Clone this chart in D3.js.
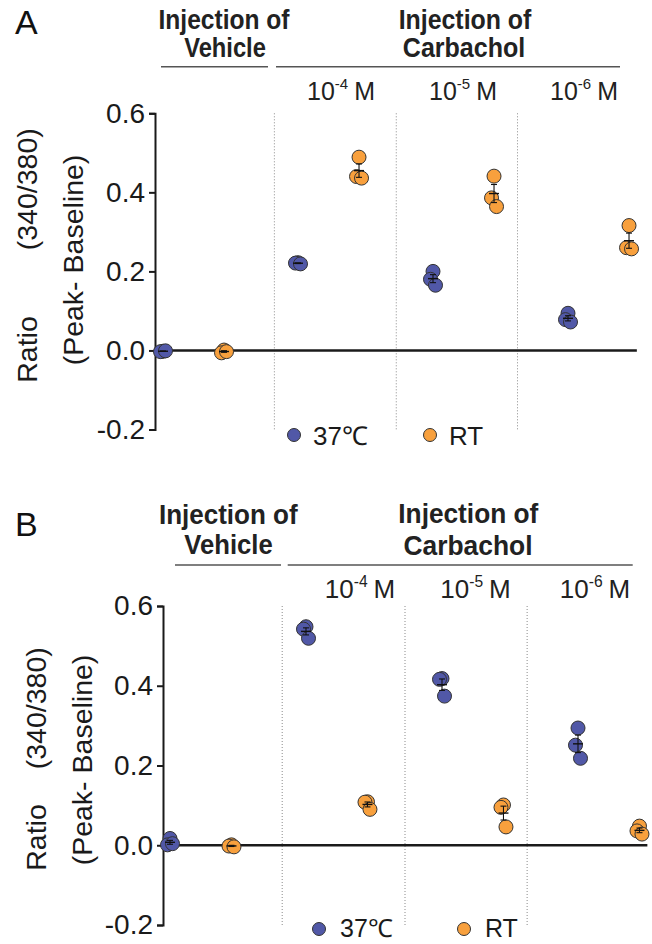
<!DOCTYPE html>
<html><head><meta charset="utf-8">
<script src="https://cdn.jsdelivr.net/npm/d3@7"></script>
<style>body{margin:0;background:#fff} svg{display:block}</style>
</head><body>
<svg id="c" width="652" height="944"></svg>
<script>
// ---------------- data ----------------
const groups = ["Vehicle", "1e-4", "1e-5", "1e-6"];
const seriesNames = ["37℃", "RT"];
const concExponents = ["-4", "-5", "-6"];
const tickValues = [-0.2, 0, 0.2, 0.4, 0.6];
const tickLabels = ["-0.2", "0.0", "0.2", "0.4", "0.6"];

// Panel A: three replicates per group (Vehicle, 10^-4, 10^-5, 10^-6 M)
const panelA_37 = [[-0.002, -0.003, -0.001], [0.222, 0.221, 0.219], [0.200, 0.180, 0.165], [0.094, 0.078, 0.072]];
const panelA_RT = [[0.001, -0.006, -0.003], [0.489, 0.440, 0.436], [0.441, 0.386, 0.364], [0.316, 0.260, 0.257]];
// Panel B
const panelB_37 = [[0.017, 0.001, 0.004], [0.548, 0.542, 0.519], [0.418, 0.416, 0.374], [0.294, 0.251, 0.218]];
const panelB_RT = [[0.001, -0.002, -0.004], [0.109, 0.108, 0.090], [0.101, 0.095, 0.046], [0.048, 0.036, 0.028]];

const colors = ["#5158a7", "#f8a03d"];

// ---------------- layout ----------------
const FONT = "'Liberation Sans', Arial, Helvetica, sans-serif";
const BOLD = "'Liberation Sans Narrow', 'Liberation Sans', Arial, sans-serif";
const dividerUnits = [0.825, 1.728, 2.626];
const zeroLineEndUnit = 3.51;
const rtOffset = 0.452;
const jitter = [0, -2.5, 2.5];

const panels = [
  {
    letter: "A", letterY: 34.3, data: [panelA_37, panelA_RT],
    axisX: 155, yRange: [429.5, 113.3], xRange: [163, 568],
    headers: [
      {t: "Injection of", cx: 224, y: 28.5, w: 131},
      {t: "Vehicle", cx: 225, y: 56.7, w: 81.7},
      {t: "Injection of", cx: 465, y: 28.5, w: 132.7},
      {t: "Carbachol", cx: 464, y: 56.7, w: 122.3}],
    underY: 66.7, unders: [[161, 268], [276, 620]],
    concX: [341, 463, 584], concY: 100, concSize: 25,
    titleX: [37, 83], titleC: [255.5, 260], titleGap: 66,
    legendY: 435, legendX: [294, 430], legendDx: 19, legendDy: 10, legendSize: 26
  },
  {
    letter: "B", letterY: 536, data: [panelB_37, panelB_RT],
    axisX: 163, yRange: [925, 606], xRange: [170, 578],
    headers: [
      {t: "Injection of", cx: 228.3, y: 524, w: 138.7},
      {t: "Vehicle", cx: 228.5, y: 554, w: 88.4},
      {t: "Injection of", cx: 468.3, y: 523, w: 140},
      {t: "Carbachol", cx: 468, y: 555, w: 129}],
    underY: 565, unders: [[175, 281], [287.7, 632.7]],
    concX: [360, 475.5, 595], concY: 598, concSize: 26,
    titleX: [46, 92], titleC: [759, 760], titleGap: 35,
    legendY: 929, legendX: [319, 464], legendDx: 21, legendDy: 8, legendSize: 25
  }
];

const svg = d3.select("#c");

panels.forEach(p => {
  const g = svg.append("g");
  const y = d3.scaleLinear().domain([-0.2, 0.6]).range(p.yRange);
  const x = d3.scaleLinear().domain([0, 3]).range(p.xRange);

  // panel letter
  g.append("text").attr("x", 15).attr("y", p.letterY).text(p.letter)
    .attr("font-family", FONT).attr("font-size", 34).attr("fill", "#111");

  // headers
  g.selectAll("text.hdr").data(p.headers).join("text").attr("class", "hdr")
    .attr("x", d => d.cx - d.w / 2).attr("y", d => d.y)
    .attr("textLength", d => d.w).attr("lengthAdjust", "spacingAndGlyphs")
    .attr("font-family", BOLD).attr("font-weight", "bold").attr("font-size", 28)
    .attr("fill", "#222").text(d => d.t);
  g.selectAll("line.under").data(p.unders).join("line").attr("class", "under")
    .attr("x1", d => d[0]).attr("x2", d => d[1]).attr("y1", p.underY).attr("y2", p.underY)
    .attr("stroke", "#555").attr("stroke-width", 1.6);

  // concentration labels
  const cl = g.selectAll("text.conc").data(concExponents).join("text").attr("class", "conc")
    .attr("x", (d, i) => p.concX[i]).attr("y", p.concY).attr("text-anchor", "middle")
    .attr("font-family", FONT).attr("font-size", p.concSize).attr("fill", "#222");
  cl.append("tspan").text("10");
  cl.append("tspan").attr("dy", -11).attr("font-size", p.concSize * 0.6).text(d => d);
  cl.append("tspan").attr("dy", 11).attr("dx", 6).text("M");

  // dotted dividers
  g.selectAll("line.div").data(dividerUnits).join("line").attr("class", "div")
    .attr("x1", d => x(d)).attr("x2", d => x(d)).attr("y1", y(0.6)).attr("y2", y(-0.2))
    .attr("stroke", "#8a8a8a").attr("stroke-width", 1).attr("stroke-dasharray", "1,2");

  // zero line
  g.append("line").attr("x1", p.axisX).attr("x2", x(zeroLineEndUnit))
    .attr("y1", y(0)).attr("y2", y(0)).attr("stroke", "#1a1a1a").attr("stroke-width", 2.5);

  // y axis
  const axis = d3.axisLeft(y).tickValues(tickValues).tickFormat((d, i) => tickLabels[i])
    .tickSize(6).tickPadding(4);
  const ax = g.append("g").attr("transform", `translate(${p.axisX},0)`).call(axis);
  ax.select(".domain").attr("stroke", "#1a1a1a").attr("stroke-width", 2);
  ax.selectAll(".tick line").attr("stroke", "#1a1a1a").attr("stroke-width", 2);
  ax.selectAll(".tick text").attr("font-family", FONT).attr("font-size", 28).attr("fill", "#1a1a1a");

  // y title
  const t1 = g.append("text").attr("transform", `translate(${p.titleX[0]},${p.titleC[0]}) rotate(-90)`)
    .attr("text-anchor", "middle").attr("font-family", FONT).attr("font-size", 28.5).attr("fill", "#1a1a1a");
  t1.append("tspan").text("Ratio");
  t1.append("tspan").attr("dx", p.titleGap).text("(340/380)");
  g.append("text").attr("transform", `translate(${p.titleX[1]},${p.titleC[1]}) rotate(-90)`)
    .attr("text-anchor", "middle").attr("font-family", FONT).attr("font-size", 28.5).attr("fill", "#1a1a1a")
    .text("(Peak- Baseline)");

  // points
  const pts = [];
  const bars = [];
  p.data.forEach((ser, si) => {
    ser.forEach((vals, gi) => {
      const cx = x(gi + si * rtOffset);
      vals.forEach((v, k) => pts.push({cx: cx + jitter[k], v, si}));
      const m = d3.mean(vals), sem = d3.deviation(vals) / Math.sqrt(vals.length);
      bars.push({cx, m, sem});
    });
  });
  g.selectAll("circle.pt").data(pts).join("circle").attr("class", "pt")
    .attr("cx", d => d.cx).attr("cy", d => y(d.v)).attr("r", 7)
    .attr("fill", d => colors[d.si]).attr("stroke", "#333").attr("stroke-width", 1);

  const eb = g.selectAll("g.eb").data(bars).join("g").attr("class", "eb")
    .attr("stroke", "#111").attr("stroke-width", 1.1);
  eb.append("line").attr("x1", d => d.cx).attr("x2", d => d.cx)
    .attr("y1", d => y(d.m - d.sem)).attr("y2", d => y(d.m + d.sem));
  eb.append("line").attr("x1", d => d.cx - 3).attr("x2", d => d.cx + 3)
    .attr("y1", d => y(d.m - d.sem)).attr("y2", d => y(d.m - d.sem));
  eb.append("line").attr("x1", d => d.cx - 3).attr("x2", d => d.cx + 3)
    .attr("y1", d => y(d.m + d.sem)).attr("y2", d => y(d.m + d.sem));
  eb.append("line").attr("x1", d => d.cx - 5).attr("x2", d => d.cx + 5)
    .attr("y1", d => y(d.m)).attr("y2", d => y(d.m)).attr("stroke-width", 1.4);

  // legend
  const lg = g.selectAll("g.lg").data(seriesNames).join("g").attr("class", "lg")
    .attr("transform", (d, i) => `translate(${p.legendX[i]},${p.legendY})`);
  lg.append("circle").attr("r", 6.5).attr("fill", (d, i) => colors[i]).attr("stroke", "#333").attr("stroke-width", 1);
  lg.append("text").attr("x", p.legendDx).attr("y", p.legendDy).attr("font-family", FONT)
    .attr("font-size", p.legendSize).attr("fill", "#1a1a1a").text(d => d);
});
</script>
</body></html>
